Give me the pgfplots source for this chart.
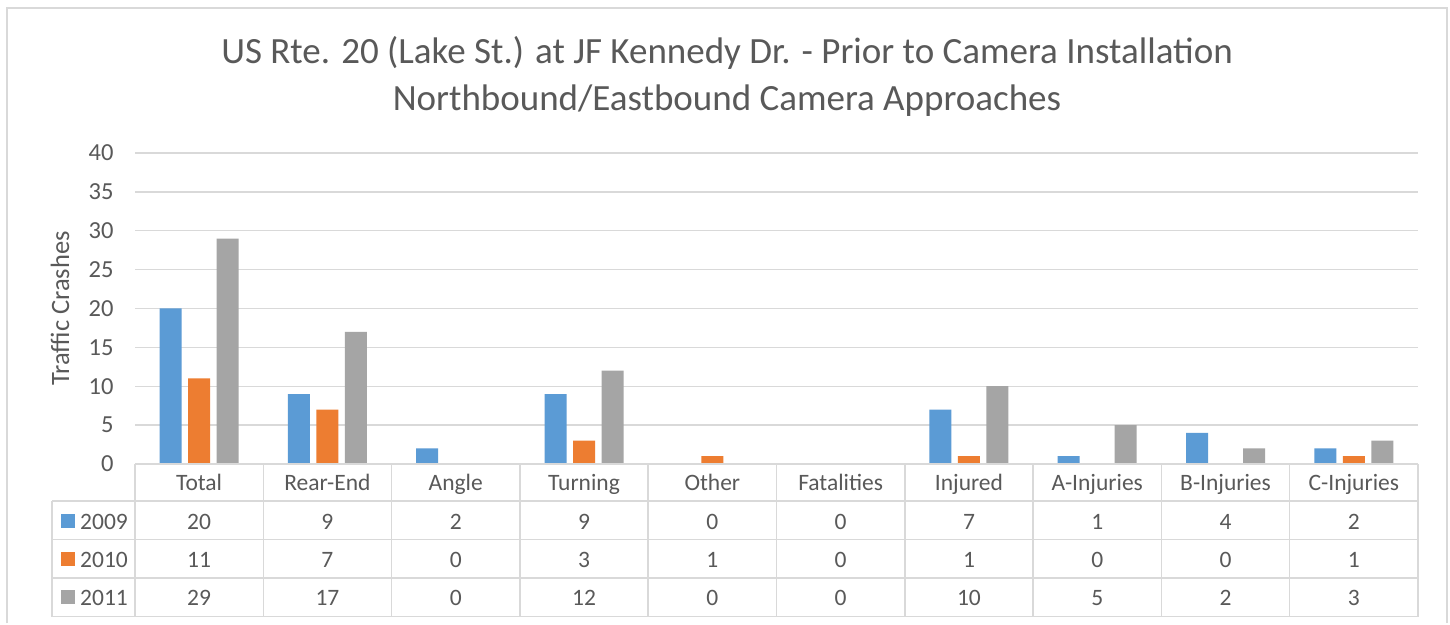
\documentclass[border=0pt]{standalone}
\usepackage{pgfplots}
\pgfplotsset{compat=1.18}
\usepackage{fontspec}
\setmainfont{Carlito}
\definecolor{cBlue}{HTML}{5B9BD5}
\definecolor{cOrange}{HTML}{ED7D31}
\definecolor{cGray}{HTML}{A5A5A5}
\definecolor{txt}{HTML}{595959}
\definecolor{grd}{HTML}{D9D9D9}
\begin{document}
\begin{tikzpicture}[x=1pt,y=1pt]
% canvas and frame (image coords: Y = 623 - y)
\fill[white] (0,0) rectangle (1450,623);
\draw[grd, line width=2pt] (7,0) -- (7,614.5) -- (1447,614.5) -- (1447,0);
% title
\node[txt, font=\fontsize{37}{42}\selectfont, anchor=base] at (727,559) {US Rte. 20 (Lake St.) at JF Kennedy Dr. - Prior to Camera Installation};
\node[txt, font=\fontsize{37}{42}\selectfont, anchor=base] at (727,512) {Northbound/Eastbound Camera Approaches};
\begin{axis}[
  at={(135pt,159pt)}, anchor=south west,
  scale only axis, width=1283pt, height=311pt,
  ymin=0, ymax=40, xmin=-0.5, xmax=9.5,
  ytick={0,5,...,40},
  xtick=\empty,
  ymajorgrids, grid style={grd, line width=1.3pt},
  axis line style={draw=none},
  major tick length=0pt,
  tick label style={txt, font=\fontsize{24.5}{28}\selectfont},
  /pgf/number format/assume math mode=true,
  yticklabel style={xshift=-18pt},
  ylabel={Traffic Crashes},
  every axis y label/.style={at={(rel axis cs:0,0.5)}, xshift=-75pt, rotate=90, anchor=center, txt, font=\fontsize{26.5}{30}\selectfont},
  ybar, bar width=22pt,
  clip=false,
]
\addplot[fill=cBlue, draw=none, bar shift=-28.5pt] coordinates {(0,20) (1,9) (2,2) (3,9) (4,0) (5,0) (6,7) (7,1) (8,4) (9,2)};
\addplot[fill=cOrange, draw=none, bar shift=0pt] coordinates {(0,11) (1,7) (2,0) (3,3) (4,1) (5,0) (6,1) (7,0) (8,0) (9,1)};
\addplot[fill=cGray, draw=none, bar shift=28.5pt] coordinates {(0,29) (1,17) (2,0) (3,12) (4,0) (5,0) (6,10) (7,5) (8,2) (9,3)};
\end{axis}
% data table grid
\begin{scope}[grd, line width=1.5pt]
\draw (135,159) -- (1418,159);
\draw (52,122) -- (1418,122);
\draw (52,83.5) -- (1418,83.5);
\draw (52,45) -- (1418,45);
\draw (52,6.5) -- (1418,6.5);
\draw (52,122) -- (52,6.5);
\foreach \k in {0,...,10} { \draw ({135+128.3*\k},159) -- ({135+128.3*\k},6.5); }
\end{scope}
\begin{scope}[txt, font=\fontsize{23.5}{28}\selectfont, every node/.style={anchor=base}]
\foreach \c [count=\i from 0] in {Total,Rear-End,Angle,Turning,Other,Fatalities,Injured,A-Injuries,B-Injuries,C-Injuries}
  { \node at ({199.15+128.3*\i},132) {\c}; }
\foreach \v [count=\i from 0] in {20,9,2,9,0,0,7,1,4,2}
  { \node at ({199.15+128.3*\i},94) {\v}; }
\foreach \v [count=\i from 0] in {11,7,0,3,1,0,1,0,0,1}
  { \node at ({199.15+128.3*\i},56) {\v}; }
\foreach \v [count=\i from 0] in {29,17,0,12,0,0,10,5,2,3}
  { \node at ({199.15+128.3*\i},18) {\v}; }
\fill[cBlue] (61,95) rectangle (75,109);
\node[anchor=base west, inner sep=0pt] at (80,94) {2009};
\fill[cOrange] (61,57) rectangle (75,71);
\node[anchor=base west, inner sep=0pt] at (80,56) {2010};
\fill[cGray] (61,19) rectangle (75,33);
\node[anchor=base west, inner sep=0pt] at (80,18) {2011};
\end{scope}
\useasboundingbox (0,0) rectangle (1450,623);
\end{tikzpicture}
\end{document}
